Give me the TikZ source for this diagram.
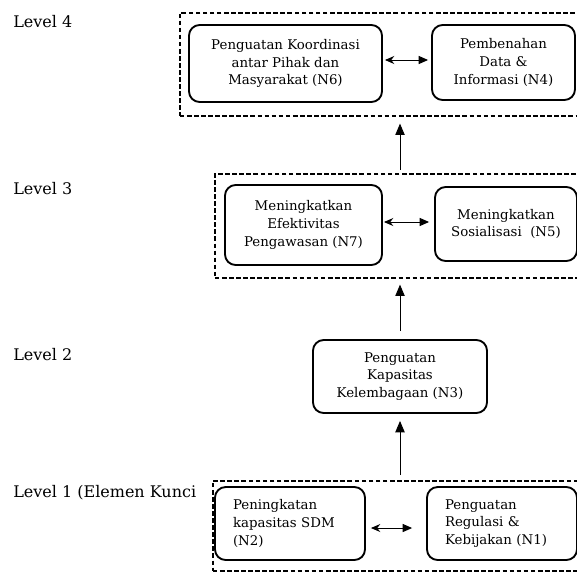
\documentclass[tikz,border=0pt]{standalone}
\usepackage{fontspec}
\setmainfont{DejaVu Serif}
\usetikzlibrary{arrows.meta,calc}
\begin{document}
\begin{tikzpicture}[x=0.75pt,y=-0.75pt,
  box/.style={draw,line width=1.4pt,rounded corners=8pt,inner sep=0pt,
    font=\fontsize{10}{13.2}\selectfont,align=center},
  grp/.style={draw,line width=1.2pt,dash pattern=on 3.5pt off 1.8pt,inner sep=0pt},
  lvl/.style={anchor=base west,inner sep=0pt,font=\fontsize{12}{14}\selectfont},
  up/.style={line width=0.7pt,-{Triangle[width=7pt,length=8.5pt]}},
  both/.style={line width=0.7pt,{Stealth[width=6pt,length=7pt]}-{Triangle[width=6pt,length=7pt]}}]
\clip (0,0) rectangle (577,572);
\useasboundingbox (0,0) rectangle (577,572);
% group boxes
\node[grp,minimum width=308.25pt,minimum height=77.25pt,anchor=north west] (l4) at (179,12) {};
\node[grp,minimum width=282pt,minimum height=78pt,anchor=north west] (l3) at (214,173) {};
\node[grp,minimum width=283.5pt,minimum height=67.5pt,anchor=north west] (l1) at (212,480) {};
% level labels
\node[lvl] (t4) at (13,27) {Level 4};
\node[lvl] (t3) at (13,194) {Level 3};
\node[lvl] (t2) at (13,360) {Level 2};
\node[lvl] (t1) at (13,497) {Level 1 (Elemen Kunci};
% boxes
\node[box,minimum width=144.75pt,minimum height=57.75pt] (n6) at (285.5,63.5) {Penguatan Koordinasi\\antar Pihak dan\\Masyarakat (N6)};
\node[box,minimum width=107.25pt,minimum height=56.25pt] (n4) at (503.5,62.5) {Pembenahan\\Data \&\\Informasi (N4)};
\node[box,minimum width=117.75pt,minimum height=60pt] (n7) at (303.5,225) {Meningkatkan\\Efektivitas\\Pengawasan (N7)};
\node[box,minimum width=106.5pt,minimum height=55.5pt] (n5) at (506,224) {Meningkatkan\\Sosialisasi~ (N5)};
\node[box,minimum width=130.5pt,minimum height=54.75pt] (n3) at (400,376.5) {Penguatan\\Kapasitas\\Kelembagaan (N3)};
\node[box,minimum width=112.5pt,minimum height=54.75pt,align=left,text width=85.5pt] (n2) at (290,523.5) {Peningkatan\\kapasitas SDM\\(N2)};
\node[box,minimum width=112.5pt,minimum height=54.75pt,align=left,text width=85.5pt] (n1) at (502,523.5) {Penguatan\\Regulasi \&\\Kebijakan (N1)};
% horizontal double arrows
\draw[both,shorten <=1.5pt,shorten >=2.25pt] (n6.east |- 0,60) -- (n4.west |- 0,60);
\draw[both,shorten <=0.75pt,shorten >=3.75pt] (n7.east |- 0,222) -- (n5.west |- 0,222);
\draw[both,shorten <=3.75pt,shorten >=10.5pt] (n2.east |- 0,528) -- (n1.west |- 0,528);
% vertical arrows
\draw[up,shorten <=2.25pt,shorten >=5.25pt] (n3.center |- l3.north) -- (n3.center |- l4.south);
\draw[up,shorten <=6pt,shorten >=4.5pt] (n3.north) -- (n3.center |- l3.south);
\draw[up,shorten <=3.75pt,shorten >=5.25pt] (n3.center |- l1.north) -- (n3.south);
\end{tikzpicture}
\end{document}
